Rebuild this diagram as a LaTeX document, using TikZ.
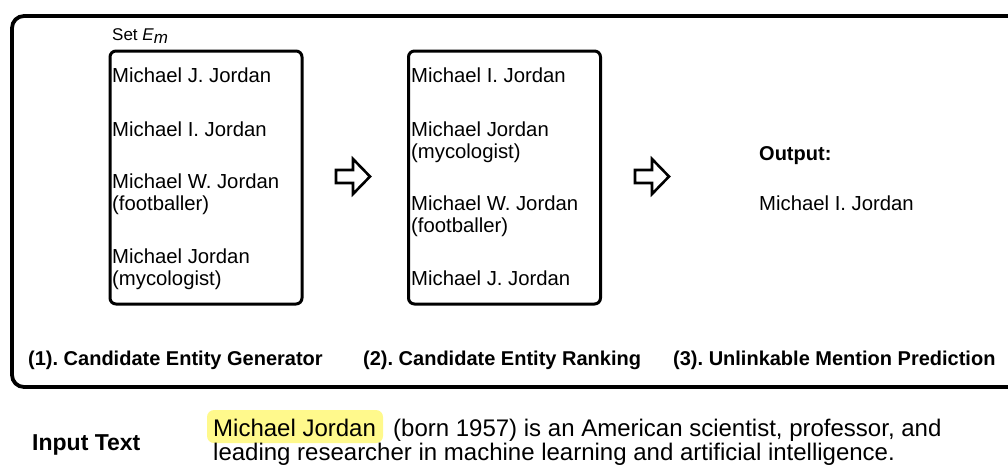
\documentclass[tikz,border=0pt]{standalone}
\usepackage{fontspec}
\setmainfont{Liberation Sans}
\frenchspacing
\definecolor{hl}{RGB}{255,249,140}
\begin{document}
\begin{tikzpicture}[x=1pt,y=-1pt,
  entry/.style={anchor=base west,inner sep=0pt,font=\fontsize{20.3}{22}\selectfont},
  stage/.style={anchor=base west,inner sep=0pt,font=\fontsize{20}{22}\selectfont\bfseries},
  listbox/.style={draw,line width=3pt,rounded corners=6pt},
  hollowarrow/.style={draw,line width=2.6pt,line join=miter}]
\useasboundingbox (0,0) rectangle (1008,466);
\clip (0,0) rectangle (1008,466);
% outer frame
\draw[line width=3.8pt,rounded corners=12pt] (12,16) rectangle (1040,387);
% list boxes
\node[listbox,minimum width=192pt,minimum height=253pt,anchor=north west] (box1) at (108.5,49.5) {};
\node[listbox,minimum width=192pt,minimum height=253pt,anchor=north west] (box2) at (407,49.5) {};
\node[anchor=base west,inner sep=0pt,font=\fontsize{17}{20}\selectfont] (setlbl) at (112,40) {Set \textit{E}$_{\textit{m}}$};
% box 1 entries
\node[entry] (a1) at (112,82) {Michael J. Jordan};
\node[entry] (a2) at (112,136) {Michael I. Jordan};
\node[entry] (a3) at (112,188) {Michael W. Jordan};
\node[entry] (a3b) at (112,210) {(footballer)};
\node[entry] (a4) at (112,263) {Michael Jordan};
\node[entry] (a4b) at (112,285) {(mycologist)};
% box 2 entries
\node[entry] (b1) at (411,82) {Michael I. Jordan};
\node[entry] (b2) at (411,136) {Michael Jordan};
\node[entry] (b2b) at (411,158) {(mycologist)};
\node[entry] (b3) at (411,210) {Michael W. Jordan};
\node[entry] (b3b) at (411,232) {(footballer)};
\node[entry] (b4) at (411,285) {Michael J. Jordan};
% output
\node[stage] (outl) at (759,160) {Output:};
\node[entry] (outv) at (759,210) {Michael I. Jordan};
% hollow arrows
\draw[hollowarrow] (336,170) -- (353,170) -- (353,159) -- (370,176.5) -- (353,194) -- (353,183) -- (336,183) -- cycle;
\draw[hollowarrow] (635,170) -- (652,170) -- (652,159) -- (669,176.5) -- (652,194) -- (652,183) -- (635,183) -- cycle;
% stage labels
\node[stage] (s1) at (28,365) {(1). Candidate Entity Generator};
\node[stage] (s2) at (363,365) {(2). Candidate Entity Ranking};
\node[stage] (s3) at (673,365) {(3). Unlinkable Mention Prediction};
% input text
\node[anchor=base west,inner sep=0pt,font=\fontsize{23}{26}\selectfont\bfseries] (inlbl) at (32,450) {Input Text};
\fill[hl,rounded corners=7pt] (207,410) rectangle (383,443);
\node[anchor=base west,inner sep=0pt,font=\fontsize{24}{26}\selectfont] (mj) at (213,436) {Michael Jordan};
\node[anchor=base west,inner sep=0pt,font=\fontsize{24}{26}\selectfont] (l1) at (393,436) {(born 1957) is an American scientist, professor, and};
\node[anchor=base west,inner sep=0pt,font=\fontsize{24}{26}\selectfont] (l2) at (213,460) {leading researcher in machine learning and artificial intelligence.};
\end{tikzpicture}
\end{document}
